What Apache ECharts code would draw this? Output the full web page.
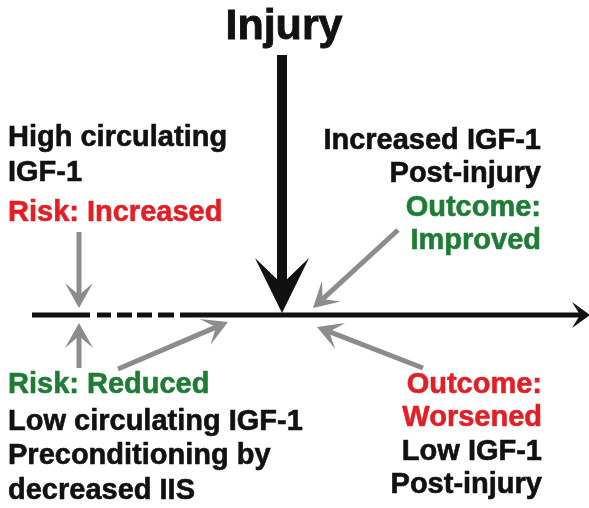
<!DOCTYPE html>
<html>
<head>
<meta charset="utf-8">
<script src="https://cdn.jsdelivr.net/npm/echarts@6/dist/echarts.min.js"></script>
<style>
html,body{margin:0;padding:0;background:#fff;}
#chart{width:589px;height:508px;}
</style>
</head>
<body>
<div id="chart"></div>
<script>
// Diagram coordinate space: x 0..589, y 0..508 (top to bottom)
const timelineSegments = [[32, 315, 90, 315], [97, 315, 111, 315], [117, 315, 132, 315], [137, 315, 152, 315], [158, 315, 174, 315], [180, 315, 580, 315]];
const timelineArrow = [[560, 315, 590, 315]];
const injuryArrow = [[282, 55, 282, 313]];
const grayArrows = [
  [79, 232, 79, 308],
  [79, 368, 79, 323],
  [118, 369, 228, 322],
  [398, 230, 313, 308],
  [423, 368, 317, 327]
];
const labelTexts = [
  'Injury',
  'High circulating', 'IGF-1', 'Risk: Increased',
  'Increased IGF-1', 'Post-injury', 'Outcome:', 'Improved',
  'Risk: Reduced', 'Low circulating IGF-1', 'Preconditioning by', 'decreased IIS',
  'Outcome:', 'Worsened', 'Low IGF-1', 'Post-injury'
];
const labelX = [284, 8, 8, 8, 541, 541, 541, 541, 8, 8, 8, 8, 542, 542, 542, 542];
const labelBaseline = [42, 148, 183, 223, 151, 184, 218, 251, 395, 432, 466, 501, 395, 428, 462, 495];
const labelAlign = ['center', 'left', 'left', 'left', 'right', 'right', 'right', 'right', 'left', 'left', 'left', 'left', 'right', 'right', 'right', 'right'];
const labelKind = ['title', 'black', 'black', 'red', 'black', 'black', 'green', 'green', 'green', 'black', 'black', 'black', 'red', 'red', 'black', 'black'];

const COLORS = { black: '#111111', red: '#e31e25', green: '#1e7d34', title: '#111111', gray: '#8c8c8c' };
const FONT_FAMILY = '"Liberation Sans", Arial, Helvetica, sans-serif';

function arrowGroup(api, style) {
  const p0 = api.coord([api.value(0), api.value(1)]);
  const p1 = api.coord([api.value(2), api.value(3)]);
  const dx = p1[0] - p0[0], dy = p1[1] - p0[1];
  const len = Math.sqrt(dx * dx + dy * dy);
  const ux = dx / len, uy = dy / len;
  const px = -uy, py = ux;
  const bx = p1[0] - ux * style.headLen, by = p1[1] - uy * style.headLen;
  const nx = p1[0] - ux * style.notch, ny = p1[1] - uy * style.notch;
  const children = [];
  if (style.shaft) {
    children.push({
      type: 'line',
      shape: { x1: p0[0], y1: p0[1], x2: nx, y2: ny },
      style: { stroke: style.color, lineWidth: style.lineWidth, lineCap: 'butt' }
    });
  }
  children.push({
    type: 'polygon',
    shape: { points: [[bx + px * style.halfW, by + py * style.halfW], p1, [bx - px * style.halfW, by - py * style.halfW], [nx, ny]] },
    style: { fill: style.color }
  });
  return { type: 'group', children: children };
}

const option = {
  animation: false,
  backgroundColor: '#ffffff',
  grid: { left: 0, right: 0, top: 0, bottom: 0 },
  xAxis: { type: 'value', min: 0, max: 589, show: false },
  yAxis: { type: 'value', min: 0, max: 508, inverse: true, show: false },
  series: [
    {
      type: 'custom',
      data: timelineSegments,
      renderItem: function (params, api) {
        const a = api.coord([api.value(0), api.value(1)]);
        const b = api.coord([api.value(2), api.value(3)]);
        return { type: 'line', shape: { x1: a[0], y1: a[1], x2: b[0], y2: b[1] }, style: { stroke: '#111', lineWidth: 5, lineCap: 'butt' } };
      }
    },
    {
      type: 'custom',
      data: timelineArrow,
      renderItem: function (params, api) {
        return arrowGroup(api, { headLen: 18, halfW: 13, notch: 10, lineWidth: 5, color: '#111', shaft: false });
      }
    },
    {
      type: 'custom',
      data: injuryArrow,
      renderItem: function (params, api) {
        return arrowGroup(api, { headLen: 55, halfW: 27, notch: 29, lineWidth: 10, color: '#111', shaft: true });
      }
    },
    {
      type: 'custom',
      data: grayArrows,
      renderItem: function (params, api) {
        return arrowGroup(api, { headLen: 25, halfW: 14, notch: 13, lineWidth: 5, color: COLORS.gray, shaft: true });
      }
    },
    {
      type: 'custom',
      data: labelTexts.map(function (t, i) { return [labelX[i], labelBaseline[i], i]; }),
      renderItem: function (params, api) {
        const i = api.value(2);
        const p = api.coord([api.value(0), api.value(1)]);
        const fs = labelKind[i] === 'title' ? 43 : 29;
        return {
          type: 'text',
          x: p[0],
          y: p[1] - fs * 0.3465,
          style: {
            text: labelTexts[i],
            fill: COLORS[labelKind[i]],
            stroke: COLORS[labelKind[i]],
            lineWidth: labelKind[i] === 'title' ? 0.9 : 0.6,
            font: 'bold ' + fs + 'px ' + FONT_FAMILY,
            align: labelAlign[i],
            verticalAlign: 'middle'
          }
        };
      }
    }
  ]
};

const chart = echarts.init(document.getElementById('chart'), null, { renderer: 'canvas' });
chart.setOption(option);
</script>
</body>
</html>
